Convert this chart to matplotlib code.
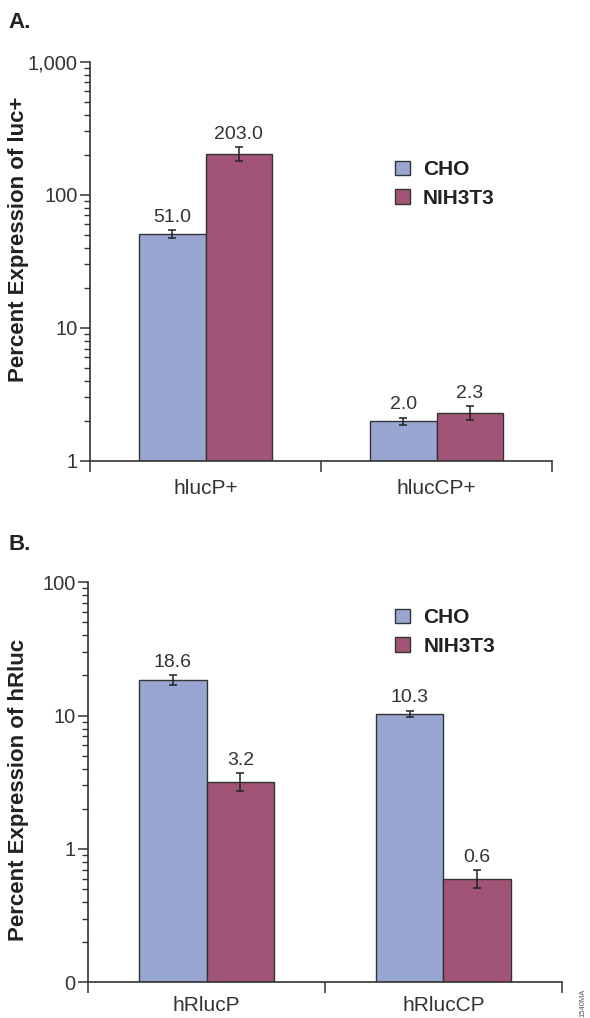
import matplotlib
matplotlib.use("Agg")
import matplotlib.pyplot as plt
from matplotlib.ticker import FixedLocator, FixedFormatter, NullFormatter, LogLocator
from matplotlib.patches import Patch

# --------------- data ---------------
series = ["CHO", "NIH3T3"]
colors = ["#99a6d2", "#a25476"]

cats_a = ["hlucP+", "hlucCP+"]
cho_a = [51.0, 2.0]
nih_a = [203.0, 2.3]
cho_a_err = [3.6, 0.12]
nih_a_err = [25.0, 0.28]

cats_b = ["hRlucP", "hRlucCP"]
cho_b = [18.6, 10.3]
nih_b = [3.2, 0.6]
cho_b_err = [1.5, 0.6]
nih_b_err = [0.5, 0.09]

yticks_a = [1, 10, 100, 1000]
ylabels_a = ["1", "10", "100", "1,000"]
yticks_b = [0.1, 1, 10, 100]
ylabels_b = ["0", "1", "10", "100"]

# --------------- style ---------------
bold = ["Liberation Sans", "DejaVu Sans"]
plain = ["Liberation Sans", "DejaVu Sans"]
txt = "#333333"
W = 0.286

fig = plt.figure(figsize=(5.9, 10.18), dpi=100)


def panel(rect, cats, cho, nih, cho_err, nih_err, yticks, ylabels, leg_xy, xpad):
    ax = fig.add_axes(rect)
    ax.set_yscale("log")
    base = yticks[0]
    x = [i + 0.5 for i in range(len(cats))]
    for vals, errs, col, off in [(cho, cho_err, colors[0], -W / 2), (nih, nih_err, colors[1], W / 2)]:
        xs = [xi + off for xi in x]
        ax.bar(xs, [v - base for v in vals], W, bottom=base, color=col,
               edgecolor=txt, linewidth=1.0, zorder=2)
        ax.errorbar(xs, vals, yerr=errs, fmt="none", ecolor="#222222",
                    elinewidth=1.1, capsize=3.2, capthick=1.1, zorder=3)
        for xi, v, e in zip(xs, vals, errs):
            ax.annotate(f"{v:.1f}", (xi, v + e), xytext=(0, 3), textcoords="offset points",
                        ha="center", va="bottom", fontsize=14, color=txt, family=plain)
    ax.set_xlim(0, len(cats))
    ax.set_ylim(yticks[0], yticks[-1])
    ax.xaxis.set_major_locator(FixedLocator([0, 1, 2]))
    ax.xaxis.set_major_formatter(NullFormatter())
    ax.xaxis.set_minor_locator(FixedLocator(x))
    ax.xaxis.set_minor_formatter(FixedFormatter(cats))
    ax.tick_params(axis="x", which="major", length=8, width=1.1, color=txt)
    ax.tick_params(axis="x", which="minor", length=0, pad=xpad, labelsize=15, labelcolor=txt)
    ax.yaxis.set_major_locator(FixedLocator(yticks))
    ax.yaxis.set_major_formatter(FixedFormatter(ylabels))
    ax.yaxis.set_minor_locator(LogLocator(base=10, subs=range(2, 10)))
    ax.yaxis.set_minor_formatter(NullFormatter())
    ax.tick_params(axis="y", which="major", length=7, width=1.1, color=txt,
                   labelsize=14.5, labelcolor=txt, pad=2)
    ax.tick_params(axis="y", which="minor", length=4.5, width=1.0, color=txt)
    for lab in ax.get_xticklabels(minor=True) + ax.get_yticklabels():
        lab.set_family(plain)
    for s in ["top", "right"]:
        ax.spines[s].set_visible(False)
    for s in ["left", "bottom"]:
        ax.spines[s].set_color(txt)
        ax.spines[s].set_linewidth(1.2)
    handles = [Patch(facecolor=c, edgecolor=txt, linewidth=1.0) for c in colors]
    ax.legend(handles, series, loc="center left", bbox_to_anchor=leg_xy, frameon=False,
              prop={"family": bold, "weight": "bold", "size": 15}, labelcolor="#222222",
              handlelength=0.7, handleheight=0.7, handletextpad=0.65, labelspacing=0.45,
              borderpad=0, borderaxespad=0)
    return ax


ax_a = panel([90 / 590, 1 - 461 / 1018, 462 / 590, 399.3 / 1018], cats_a, cho_a, nih_a,
             cho_a_err, nih_a_err, yticks_a, ylabels_a, (0.66, 0.694), 13)
ax_b = panel([88.3 / 590, 1 - 982.3 / 1018, 473.4 / 590, 400 / 1018], cats_b, cho_b, nih_b,
             cho_b_err, nih_b_err, yticks_b, ylabels_b, (0.648, 0.876), 10)

fig.text(19 / 590, 1 - 239 / 1018, "Percent Expression of luc+", rotation=90, ha="center", va="center",
         family=bold, weight="bold", fontsize=16, color="#222222")
fig.text(19 / 590, 1 - 790 / 1018, "Percent Expression of hRluc", rotation=90, ha="center", va="center",
         family=bold, weight="bold", fontsize=16, color="#222222")

fig.text(8 / 590, 1 - 22 / 1018, "A.", ha="left", va="center", family=bold, weight="bold",
         fontsize=16, color="#222222")
fig.text(8 / 590, 1 - 545 / 1018, "B.", ha="left", va="center", family=bold, weight="bold",
         fontsize=16, color="#222222")

fig.text(583 / 590, 1 - 1003 / 1018, "1540MA", rotation=90, ha="center", va="center",
         family=plain, fontsize=5.5, color="#555555")

fig.savefig("out.png", dpi=100)
